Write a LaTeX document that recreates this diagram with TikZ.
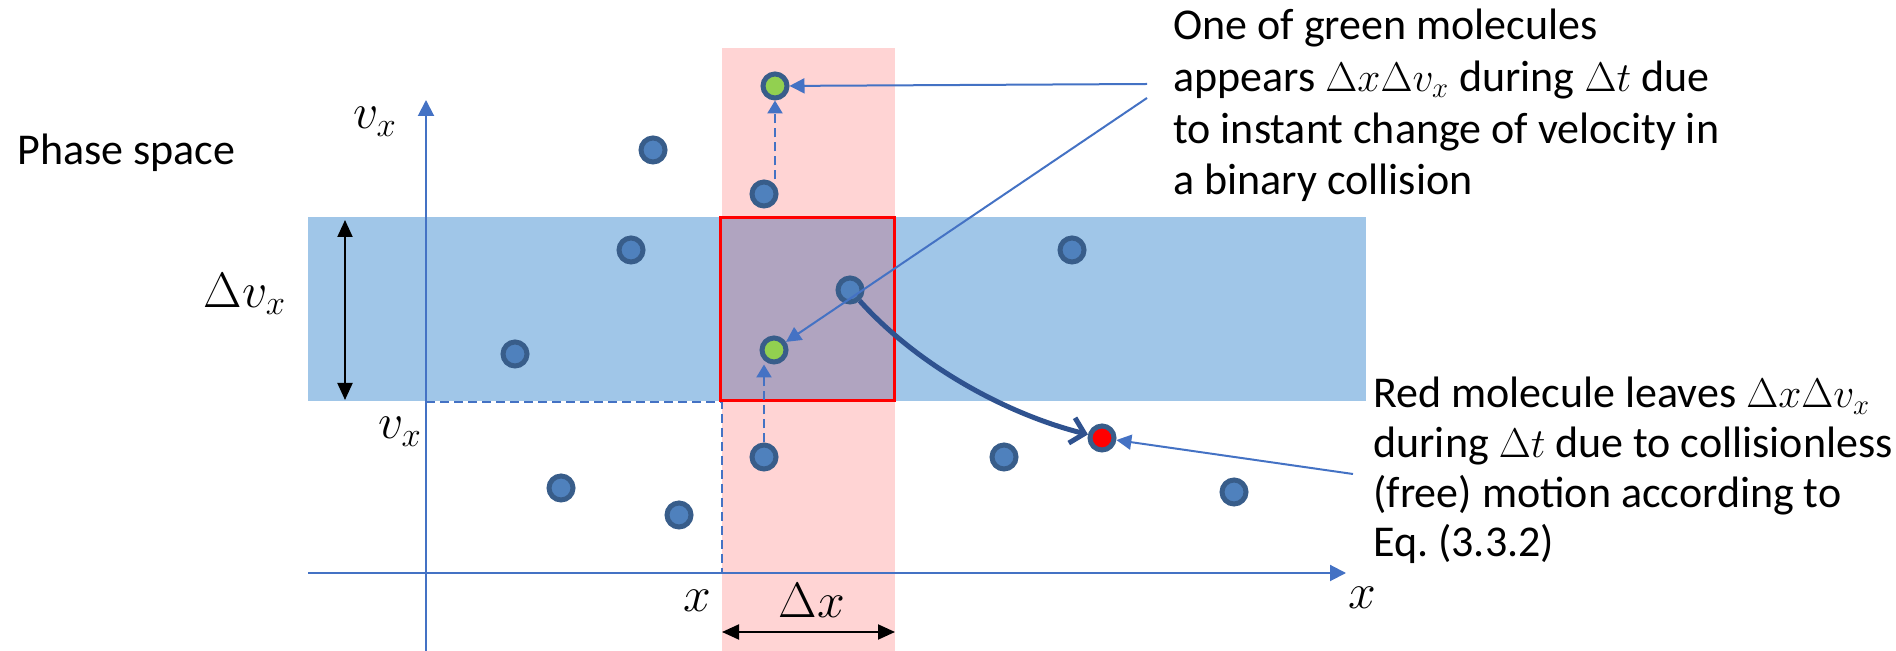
\documentclass[tikz,border=0pt]{standalone}
\usepackage{fontspec}
\setmainfont{Carlito}
\usetikzlibrary{arrows.meta}
\definecolor{axisblue}{RGB}{68,114,196}
\definecolor{bandblue}{RGB}{160,198,232}
\definecolor{molfill}{RGB}{79,129,189}
\definecolor{moledge}{RGB}{56,93,138}
\definecolor{molgreen}{RGB}{146,208,80}
\definecolor{arrowdark}{RGB}{47,82,143}
\begin{document}
\begin{tikzpicture}[x=0.5pt,y=-0.5pt,
  every node/.style={font=\fontsize{22pt}{22.5pt}\selectfont},
  mathlabel/.style={font=\fontsize{26pt}{28pt}\selectfont},
  mol/.style={circle,draw=moledge,fill=molfill,line width=2.5pt,minimum size=12pt,inner sep=0pt},
  greenmol/.style={mol,fill=molgreen},
  redmol/.style={mol,fill=red},
  axisline/.style={draw=axisblue,line width=1pt,-{Triangle[length=8pt,width=8pt]}},
  dashline/.style={draw=axisblue,line width=1.2pt,dash pattern=on 4.5pt off 2.5pt},
  dasharr/.style={dashline,-{Triangle[length=6.5pt,width=7.5pt]}},
  callout/.style={draw=axisblue,line width=1pt,-{Triangle[length=7.5pt,width=7.5pt]}},
  dimarr/.style={draw=black,line width=1pt,{Triangle[length=8.5pt,width=7.5pt]}-{Triangle[length=8.5pt,width=7.5pt]}},
  thickarr/.style={draw=arrowdark,line width=2.5pt,-{Straight Barb[length=6.5pt,width=13pt]}},
  txt/.style={align=left,inner sep=0pt,anchor=north west}
]
\useasboundingbox (0,0) rectangle (1896,651);
% bands
\fill[bandblue] (308,217) rectangle (1366,401);
\fill[red,opacity=0.17] (722,48) rectangle (895,651);
% dashed guide lines
\coordinate (hv) at (426,402);
\coordinate (hx) at (722,402);
\coordinate (vx) at (722,573);
\draw[dashline] (hv) -- (hx) -- (vx);
% red square
\draw[red,line width=1.5pt] (720,218) rectangle (894,401);
% axes
\coordinate (ya) at (426,651);
\coordinate (yb) at (426,100);
\coordinate (xa) at (308,573);
\coordinate (xb) at (1346,573);
\draw[axisline] (ya) -- (yb);
\draw[axisline] (xa) -- (xb);
% molecules (positions)
\coordinate (pb1) at (653,150);
\coordinate (pb2) at (631,250);
\coordinate (pb3) at (515,354);
\coordinate (pb4) at (561,488);
\coordinate (pb5) at (679,515);
\coordinate (pb6) at (764,194);
\coordinate (pb7) at (850,290);
\coordinate (pb8) at (764,457);
\coordinate (pb9) at (1072,250);
\coordinate (pb10) at (1004,457);
\coordinate (pb11) at (1234,492);
\coordinate (pg1) at (775,86);
\coordinate (pg2) at (774,350);
\coordinate (pr) at (1102,438);
\node[mol] (b1) at (pb1) {};
\node[mol] (b2) at (pb2) {};
\node[mol] (b3) at (pb3) {};
\node[mol] (b4) at (pb4) {};
\node[mol] (b5) at (pb5) {};
\node[mol] (b6) at (pb6) {};
\node[mol] (b7) at (pb7) {};
\node[mol] (b8) at (pb8) {};
\node[mol] (b9) at (pb9) {};
\node[mol] (b10) at (pb10) {};
\node[mol] (b11) at (pb11) {};
\node[greenmol] (g1) at (pg1) {};
\node[greenmol] (g2) at (pg2) {};
\node[redmol] (r) at (pr) {};
% dashed velocity jumps
\draw[dasharr] (g1.south |- b6.north) -- (g1.south);
\draw[dasharr] (b8.north) -- (b8 |- g2.south);
% thick motion arrow
\draw[thickarr] (b7) .. controls (920,368) and (1010,415) .. (r);
% labels
\node[anchor=base west,inner sep=0pt] (ps) at (17,165) {Phase space};
\node[mathlabel] (lvx) at (375,122) {$v_x$};
\node[mathlabel] (ldvx) at (245,294) {$\Delta v_x$};
\node[mathlabel] (lvx2) at (400,432) {$v_x$};
\node[mathlabel] (lx) at (697,601) {$x$};
\node[mathlabel] (ldx) at (812,601) {$\Delta x$};
\node[mathlabel] (lx2) at (1362,598) {$x$};
% dimension arrows
\coordinate (dxa) at (722,632);
\coordinate (dxb) at (895,632);
\draw[dimarr] (dxa) -- (dxb);
\coordinate (dva) at (345,220);
\coordinate (dvb) at (345,400);
\draw[dimarr] (dva) -- (dvb);
% text blocks
\node[txt,font=\fontsize{22pt}{25.8pt}\selectfont] (t1) at (1173,9) {One of green molecules\\appears $\Delta x\Delta v_x$ during $\Delta t$ due\\to instant change of velocity in\\a binary collision};
\node[txt,font=\fontsize{22pt}{24.8pt}\selectfont] (t2) at (1373,377) {Red molecule leaves $\Delta x\Delta v_x$\\during $\Delta t$ due to collisionless\\(free) motion according to\\Eq.\ (3.3.2)};
% callouts
\coordinate (c1) at (1147,84);
\coordinate (c2) at (1147,98);
\coordinate (c3) at (1353,474);
\draw[callout] (c1) -- (g1);
\draw[callout] (c2) -- (g2);
\draw[callout] (c3) -- (r);
\end{tikzpicture}
\end{document}
